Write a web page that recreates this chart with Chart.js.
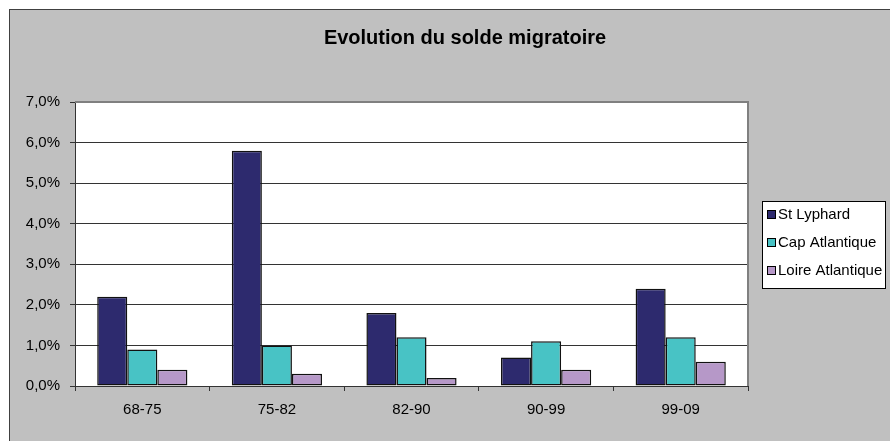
<!DOCTYPE html>
<html lang="fr">
<head>
    <meta charset="UTF-8">
    <title>Evolution du solde migratoire</title>
    <script src="https://cdn.jsdelivr.net/npm/chart.js@4.4.1/dist/chart.umd.min.js"></script>
    <style>
        body { margin: 0; background: #fff; }
        #wrap {
            position: absolute; left: 9px; top: 9px;
            width: 880px; height: 431px;
            border-left: 1px solid #404040; border-top: 1px solid #404040;
            background: #c0c0c0;
        }
    </style>
</head>
<body>
<div id="wrap"><canvas id="chart"></canvas></div>
<script>
    // données
    var chartTitle = 'Evolution du solde migratoire';
    var periodes = ['68-75', '75-82', '82-90', '90-99', '99-09'];
    var stLyphard = [2.2, 5.8, 1.8, 0.7, 2.4];
    var capAtlantique = [0.9, 1.0, 1.2, 1.1, 1.2];
    var loireAtlantique = [0.4, 0.3, 0.2, 0.4, 0.6];

    var FONT = '"Liberation Sans", Arial, sans-serif';

    // titre, fond de la zone de traçage et légende encadrée
    var excelFrame = {
        id: 'excelFrame',
        beforeDraw: function(chart) {
            var ctx = chart.ctx, a = chart.chartArea;
            ctx.save();
            ctx.fillStyle = '#ffffff';
            ctx.fillRect(a.left, a.top, a.right - a.left, a.bottom - a.top);
            ctx.restore();
        },
        afterDraw: function(chart) {
            var ctx = chart.ctx, a = chart.chartArea;
            ctx.save();
            // bord droit de la zone de traçage
            ctx.strokeStyle = '#808080';
            ctx.lineWidth = 2;
            ctx.beginPath();
            ctx.moveTo(a.left, a.top);
            ctx.lineTo(a.right, a.top);
            ctx.lineTo(a.right, a.bottom);
            ctx.stroke();

            // titre
            ctx.fillStyle = '#000';
            ctx.font = 'bold 20px ' + FONT;
            ctx.textAlign = 'center';
            ctx.textBaseline = 'middle';
            ctx.fillText(chartTitle, 455, 28);

            // légende
            var lx = 752.5, ly = 191.5;
            ctx.fillStyle = '#fff';
            ctx.fillRect(lx, ly, 123, 87);
            ctx.strokeStyle = '#000';
            ctx.lineWidth = 1;
            ctx.strokeRect(lx, ly, 123, 87);
            ctx.font = '15px ' + FONT;
            ctx.textAlign = 'left';
            chart.data.datasets.forEach(function(ds, i) {
                var y = 205 + i * 28;
                ctx.fillStyle = ds.backgroundColor;
                ctx.fillRect(757.5, y - 4.5, 8, 8);
                ctx.strokeRect(757.5, y - 4.5, 8, 8);
                ctx.fillStyle = '#000';
                ctx.fillText(ds.label, 768, y);
            });
            ctx.restore();
        }
    };

    var ctx = document.getElementById('chart');

    var myChart = new Chart(ctx, {
        type: 'bar',
        data: {
            labels: periodes,
            datasets: [{
                label: 'St Lyphard',
                data: stLyphard,
                backgroundColor: '#2d2a6e'
            }, {
                label: 'Cap Atlantique',
                data: capAtlantique,
                backgroundColor: '#48c3c5'
            }, {
                label: 'Loire Atlantique',
                data: loireAtlantique,
                backgroundColor: '#b698c8'
            }]
        },
        options: {
            responsive: true,
            maintainAspectRatio: false,
            animation: false,
            datasets: {
                bar: {
                    borderColor: '#111',
                    borderWidth: 1.5,
                    borderSkipped: false,
                    categoryPercentage: 0.67,
                    barPercentage: 1
                }
            },
            layout: {
                padding: { top: 92, right: 142, bottom: 0, left: 0 }
            },
            scales: {
                x: {
                    afterFit: function(scale) { scale.height = 55; },
                    grid: {
                        offset: true,
                        drawOnChartArea: false,
                        tickLength: 5,
                        color: '#333'
                    },
                    border: { color: '#333' },
                    ticks: {
                        color: '#000',
                        padding: 10,
                        font: { family: FONT, size: 15 }
                    }
                },
                y: {
                    min: 0,
                    max: 7,
                    afterFit: function(scale) { scale.width = 65; },
                    grid: {
                        tickLength: 5,
                        color: '#333'
                    },
                    border: { color: '#333' },
                    ticks: {
                        stepSize: 1,
                        color: '#000',
                        padding: 10,
                        font: { family: FONT, size: 15 },
                        callback: function(v) {
                            return v.toFixed(1).replace('.', ',') + '%';
                        }
                    }
                }
            },
            plugins: {
                legend: { display: false },
                title: { display: false },
                tooltip: { enabled: false }
            }
        },
        plugins: [excelFrame]
    });
</script>
</body>
</html>
